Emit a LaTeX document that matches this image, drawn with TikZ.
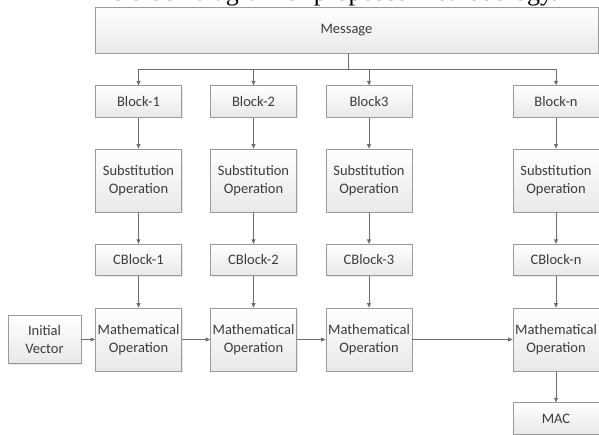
\documentclass[tikz,border=0pt]{standalone}
\usepackage{fontspec}
\setmainfont{Liberation Serif}
\newfontfamily\boxfont{Carlito}
\usetikzlibrary{arrows.meta, positioning, shadows}
\definecolor{cedge}{HTML}{9A9A9A}
\definecolor{cline}{HTML}{6E6E6E}
\definecolor{ctext}{HTML}{3C3C3C}
\tikzset{
  blk/.style={draw=cedge, line width=0.8pt, top color=white, bottom color=black!9,
    drop shadow={shadow xshift=1pt, shadow yshift=-1pt, opacity=0.18},
    align=center, inner sep=0pt, minimum width=86pt, text=ctext,
    font=\boxfont\fontsize{14.5}{18.5}\selectfont},
  arrow/.style={-{Triangle[length=4.5pt, width=4pt]}, draw=cline, line width=0.8pt},
  link/.style={draw=cline, line width=0.8pt},
}

\begin{document}
\begin{tikzpicture}[x=1pt, y=-1pt,
  short/.style={blk, minimum height=31.5pt},
  tall/.style={blk, minimum height=63pt}]
  \useasboundingbox (0,0) rectangle (599,435);
  % caption of the page, cut off at the top
  \node[anchor=base east, inner sep=0pt, font=\fontsize{26}{30}\selectfont] (cap) at (558,0.5)
    {The block diagram of proposed methodology.};
  \node[blk, minimum width=503pt, minimum height=46pt] (msg) at (346.5,30) {Message};
  \coordinate (bus) at (348,69);
  \foreach \i/\x/\lb in {1/138.5/Block-1, 2/253.5/Block-2, 3/369/Block3, n/556/Block-n}{
    \node[short] (b\i) at (\x,101.5) {\lb};
    \node[tall] (s\i) at (\x,180.5) {Substitution\\Operation};
    \node[short] (c\i) at (\x,260) {CBlock-\i};
    \node[tall] (m\i) at (\x,339.5) {Mathematical\\Operation};
    \draw[arrow] (b\i.north |- bus) -- (b\i.north);
    \draw[arrow] (b\i) -- (s\i);
    \draw[arrow] (s\i) -- (c\i);
    \draw[arrow] (c\i) -- (m\i);
  }
  \draw[link] (msg.south -| bus) -- (bus);
  \draw[link] (b1.north |- bus) -- (bn.north |- bus);
  \node[blk, minimum width=73pt, minimum height=48pt] (iv) at (44.5,339.5) {Initial\\Vector};
  \node[short] (mac) at (556,418.5) {MAC};
  \foreach \a/\b in {iv/m1, m1/m2, m2/m3, m3/mn} \draw[arrow] (\a) -- (\b);
  \draw[arrow] (mn) -- (mac);
\end{tikzpicture}
\end{document}
